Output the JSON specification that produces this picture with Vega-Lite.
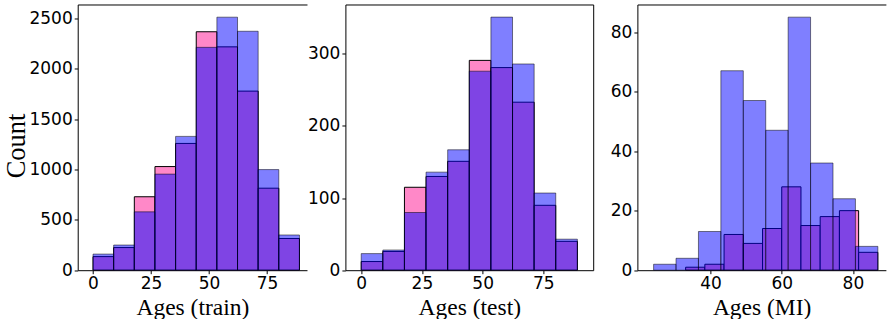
{
  "$schema": "https://vega.github.io/schema/vega-lite/v6.json",
  "padding": {"left": 3.7, "top": 4.5, "right": 0, "bottom": 0},
  "data": {"values": [
    {"set":"train","series":"A","x0":0,"x1":8.9,"count":160},
    {"set":"train","series":"A","x0":8.9,"x1":17.8,"count":250},
    {"set":"train","series":"A","x0":17.8,"x1":26.7,"count":580},
    {"set":"train","series":"A","x0":26.7,"x1":35.6,"count":955},
    {"set":"train","series":"A","x0":35.6,"x1":44.5,"count":1330},
    {"set":"train","series":"A","x0":44.5,"x1":53.4,"count":2215},
    {"set":"train","series":"A","x0":53.4,"x1":62.3,"count":2515},
    {"set":"train","series":"A","x0":62.3,"x1":71.2,"count":2375},
    {"set":"train","series":"A","x0":71.2,"x1":80.1,"count":1000},
    {"set":"train","series":"A","x0":80.1,"x1":89,"count":350},
    {"set":"train","series":"B","x0":0,"x1":8.9,"count":135},
    {"set":"train","series":"B","x0":8.9,"x1":17.8,"count":225},
    {"set":"train","series":"B","x0":17.8,"x1":26.7,"count":730},
    {"set":"train","series":"B","x0":26.7,"x1":35.6,"count":1030},
    {"set":"train","series":"B","x0":35.6,"x1":44.5,"count":1260},
    {"set":"train","series":"B","x0":44.5,"x1":53.4,"count":2370},
    {"set":"train","series":"B","x0":53.4,"x1":62.3,"count":2220},
    {"set":"train","series":"B","x0":62.3,"x1":71.2,"count":1780},
    {"set":"train","series":"B","x0":71.2,"x1":80.1,"count":815},
    {"set":"train","series":"B","x0":80.1,"x1":89,"count":315},
    {"set":"test","series":"A","x0":0,"x1":8.9,"count":23},
    {"set":"test","series":"A","x0":8.9,"x1":17.8,"count":28},
    {"set":"test","series":"A","x0":17.8,"x1":26.7,"count":80},
    {"set":"test","series":"A","x0":26.7,"x1":35.6,"count":136},
    {"set":"test","series":"A","x0":35.6,"x1":44.5,"count":167},
    {"set":"test","series":"A","x0":44.5,"x1":53.4,"count":276},
    {"set":"test","series":"A","x0":53.4,"x1":62.3,"count":351},
    {"set":"test","series":"A","x0":62.3,"x1":71.2,"count":286},
    {"set":"test","series":"A","x0":71.2,"x1":80.1,"count":107},
    {"set":"test","series":"A","x0":80.1,"x1":89,"count":43},
    {"set":"test","series":"B","x0":0,"x1":8.9,"count":12},
    {"set":"test","series":"B","x0":8.9,"x1":17.8,"count":26},
    {"set":"test","series":"B","x0":17.8,"x1":26.7,"count":115},
    {"set":"test","series":"B","x0":26.7,"x1":35.6,"count":130},
    {"set":"test","series":"B","x0":35.6,"x1":44.5,"count":151},
    {"set":"test","series":"B","x0":44.5,"x1":53.4,"count":291},
    {"set":"test","series":"B","x0":53.4,"x1":62.3,"count":281},
    {"set":"test","series":"B","x0":62.3,"x1":71.2,"count":233},
    {"set":"test","series":"B","x0":71.2,"x1":80.1,"count":90},
    {"set":"test","series":"B","x0":80.1,"x1":89,"count":40},
    {"set":"MI","series":"A","x0":24,"x1":30.3,"count":2},
    {"set":"MI","series":"A","x0":30.3,"x1":36.6,"count":4},
    {"set":"MI","series":"A","x0":36.6,"x1":42.9,"count":13},
    {"set":"MI","series":"A","x0":42.9,"x1":49.2,"count":67},
    {"set":"MI","series":"A","x0":49.2,"x1":55.5,"count":57},
    {"set":"MI","series":"A","x0":55.5,"x1":61.8,"count":47},
    {"set":"MI","series":"A","x0":61.8,"x1":68.1,"count":85},
    {"set":"MI","series":"A","x0":68.1,"x1":74.4,"count":36},
    {"set":"MI","series":"A","x0":74.4,"x1":80.7,"count":24},
    {"set":"MI","series":"A","x0":80.7,"x1":87,"count":8},
    {"set":"MI","series":"B","x0":33,"x1":38.4,"count":1},
    {"set":"MI","series":"B","x0":38.4,"x1":43.8,"count":2},
    {"set":"MI","series":"B","x0":43.8,"x1":49.2,"count":12},
    {"set":"MI","series":"B","x0":49.2,"x1":54.6,"count":9},
    {"set":"MI","series":"B","x0":54.6,"x1":60,"count":14},
    {"set":"MI","series":"B","x0":60,"x1":65.4,"count":28},
    {"set":"MI","series":"B","x0":65.4,"x1":70.8,"count":15},
    {"set":"MI","series":"B","x0":70.8,"x1":76.2,"count":18},
    {"set":"MI","series":"B","x0":76.2,"x1":81.6,"count":20},
    {"set":"MI","series":"B","x0":81.6,"x1":87,"count":6}
  ]},
  "hconcat": [
    {
      "width": 229.3, "height": 265.7,
      "transform": [{"filter": "datum.set === 'train'"}],
      "layer": [
        {
          "transform": [{"filter": "datum.series === 'B'"}],
          "mark": {"type": "bar", "orient": "vertical", "fill": "#FF88C8", "stroke": "black", "strokeWidth": 1},
          "encoding": {
            "x": {"field": "x0", "type": "quantitative", "scale": {"domain": [-4.45, 90.1], "nice": false, "zero": false}, "axis": {"values": [0, 25, 50, 75], "title": "Ages (train)"}},
            "x2": {"field": "x1"},
            "y": {"field": "count", "type": "quantitative", "scale": {"domain": [0, 2641], "nice": false}, "axis": {"values": [0, 500, 1000, 1500, 2000, 2500], "format": "d", "title": "Count", "titleY": 141}},
            "y2": {"datum": 0}
          }
        },
        {
          "transform": [{"filter": "datum.series === 'A'"}],
          "mark": {"type": "bar", "orient": "vertical", "fill": "#0000FF", "fillOpacity": 0.5, "stroke": "black", "strokeOpacity": 0.5, "strokeWidth": 1},
          "encoding": {
            "x": {"field": "x0", "type": "quantitative", "axis": {"orient": "top", "labels": false, "ticks": false, "title": null}},
            "x2": {"field": "x1"},
            "y": {"field": "count", "type": "quantitative", "axis": {"orient": "right", "domain": false, "labels": false, "ticks": false, "title": null}},
            "y2": {"datum": 0}
          }
        }
      ],
      "resolve": {"axis": {"x": "independent", "y": "independent"}}
    },
    {
      "hconcat": [
        {
          "width": 247.8, "height": 265.7,
          "transform": [{"filter": "datum.set === 'test'"}],
          "layer": [
            {
              "transform": [{"filter": "datum.series === 'B'"}],
              "mark": {"type": "bar", "orient": "vertical", "fill": "#FF88C8", "stroke": "black", "strokeWidth": 1},
              "encoding": {
                "x": {"field": "x0", "type": "quantitative", "scale": {"domain": [-4.45, 93.45], "nice": false, "zero": false}, "axis": {"values": [0, 25, 50, 75], "title": "Ages (test)"}},
                "x2": {"field": "x1"},
                "y": {"field": "count", "type": "quantitative", "scale": {"domain": [0, 368.5], "nice": false}, "axis": {"values": [0, 100, 200, 300], "title": null}},
                "y2": {"datum": 0}
              }
            },
            {
              "transform": [{"filter": "datum.series === 'A'"}],
              "mark": {"type": "bar", "orient": "vertical", "fill": "#0000FF", "fillOpacity": 0.5, "stroke": "black", "strokeOpacity": 0.5, "strokeWidth": 1},
              "encoding": {
                "x": {"field": "x0", "type": "quantitative", "axis": {"orient": "top", "labels": false, "ticks": false, "title": null}},
                "x2": {"field": "x1"},
                "y": {"field": "count", "type": "quantitative", "axis": {"orient": "right", "labels": false, "ticks": false, "title": null}},
                "y2": {"datum": 0}
              }
            }
          ],
          "resolve": {"axis": {"x": "independent", "y": "independent"}}
        },
        {
          "width": 248.5, "height": 265.7,
          "transform": [{"filter": "datum.set === 'MI'"}],
          "layer": [
            {
              "transform": [{"filter": "datum.series === 'B'"}],
              "mark": {"type": "bar", "orient": "vertical", "fill": "#FF88C8", "stroke": "black", "strokeWidth": 1},
              "encoding": {
                "x": {"field": "x0", "type": "quantitative", "scale": {"domain": [20.85, 87.85], "nice": false, "zero": false}, "axis": {"values": [40, 60, 80], "title": "Ages (MI)"}},
                "x2": {"field": "x1"},
                "y": {"field": "count", "type": "quantitative", "scale": {"domain": [0, 89.25], "nice": false}, "axis": {"values": [0, 20, 40, 60, 80], "title": null}},
                "y2": {"datum": 0}
              }
            },
            {
              "transform": [{"filter": "datum.series === 'A'"}],
              "mark": {"type": "bar", "orient": "vertical", "fill": "#0000FF", "fillOpacity": 0.5, "stroke": "black", "strokeOpacity": 0.5, "strokeWidth": 1},
              "encoding": {
                "x": {"field": "x0", "type": "quantitative", "axis": {"orient": "top", "labels": false, "ticks": false, "title": null}},
                "x2": {"field": "x1"},
                "y": {"field": "count", "type": "quantitative", "axis": {"orient": "right", "domain": false, "labels": false, "ticks": false, "title": null}},
                "y2": {"datum": 0}
              }
            }
          ],
          "resolve": {"axis": {"x": "independent", "y": "independent"}}
        }
      ],
      "spacing": 44,
      "bounds": "flush"
    }
  ],
  "spacing": 37.7,
  "bounds": "flush",
  "config": {
    "view": {"stroke": null},
    "axis": {
      "grid": false, "domainColor": "black", "domainWidth": 1, "tickColor": "black", "tickSize": 3.5, "tickWidth": 1,
      "labelFont": "DejaVu Sans", "labelFontSize": 17, "labelColor": "black", "labelPadding": 2, "labelFlush": false, "labelOverlap": false,
      "titleFont": "Liberation Serif", "titleFontWeight": "normal", "titleColor": "black", "titleFontSize": 23.5, "titlePadding": 4
    },
    "axisY": {"titleFontSize": 26.5, "titlePadding": -2}
  }
}
